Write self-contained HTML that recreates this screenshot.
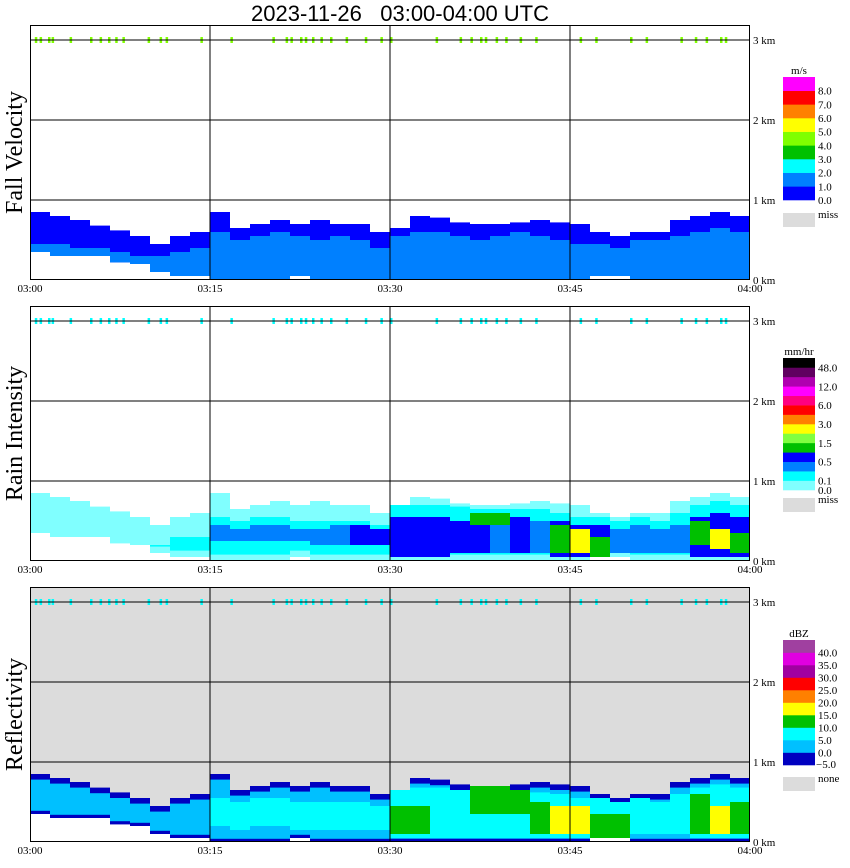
<!DOCTYPE html>
<html><head><meta charset="utf-8"><style>
body{margin:0;background:#fff;width:850px;height:868px;overflow:hidden}
svg{display:block}
</style></head><body>
<svg id="chart" width="850" height="868" xmlns="http://www.w3.org/2000/svg"></svg>
<script>
// ---- data (36 bins of 100 s, 03:00-04:00) ----
const timeTicks = ['03:00','03:15','03:30','03:45','04:00'];
const kmTicks = [0,1,2,3];
const echoTop  = [.85,.8,.75,.68,.62,.55,.45,.55,.6,.85,.65,.7,.75,.7,.75,.7,.7,.6,.65,.8,.78,.72,.7,.7,.72,.75,.72,.7,.6,.55,.6,.6,.75,.8,.85,.8];
const echoBase = [.35,.3,.3,.3,.22,.2,.1,.05,.05,0,0,0,0,.05,0,0,0,0,0,0,0,0,0,0,0,0,0,0,.05,.05,0,0,0,0,0,0];
// fall velocity
const fvMidTop = [.45,.45,.4,.4,.35,.3,.3,.35,.4,.6,.5,.55,.6,.55,.5,.55,.5,.4,.55,.6,.6,.55,.5,.55,.6,.55,.5,.45,.45,.4,.5,.5,.55,.6,.65,.6];
// rain intensity
const rrMidTop = [.25,.2,.2,.2,.25,.25,.2,.3,.3,.55,.5,.55,.55,.5,.5,.5,.5,.45,.7,.7,.7,.68,.65,.65,.65,.65,.6,.55,.55,.5,.55,.5,.6,.7,.75,.7];
const rrInTop  = [0,0,0,0,0,0,0,0,0,.45,.4,.45,.45,.4,.4,.45,.45,.4,.55,.55,.55,.5,.55,.55,.55,.5,.5,.45,.45,.4,.45,.4,.45,.55,.6,.55];
const rrInBase = [0,0,0,0,0,0,0,0,0,.25,.25,.25,.25,.25,.2,.2,.2,.2,.05,.05,.05,.1,.1,.1,.1,.1,.05,.05,.05,.1,.1,.1,.1,.05,.05,.05];
const rrInLvl  = [0,0,0,0,0,0,0,0,0,2,2,2,2,2,2,2,3,3,3,3,3,3,3,2,3,2,3,3,3,2,2,2,2,3,3,3];
const rrHotTop = [0,0,0,0,0,0,0,0,0,0,0,0,0,0,0,0,0,0,0,0,0,0,.6,.6,0,0,.45,.4,.3,0,0,0,0,.5,.4,.35];
const rrHotBase= [0,0,0,0,0,0,0,0,0,0,0,0,0,0,0,0,0,0,0,0,0,0,.45,.45,0,0,.1,.1,.05,0,0,0,0,.2,.15,.1];
const rrHotLvl = [0,0,0,0,0,0,0,0,0,0,0,0,0,0,0,0,0,0,0,0,0,0,4,4,0,0,4,6,4,0,0,0,0,4,6,4];
// reflectivity
const zCyTop   = [0,0,0,0,0,0,0,0,0,.55,.5,.55,.55,.5,.5,.5,.5,.45,.65,.68,.68,.65,.62,.62,.62,.62,.6,.55,.55,.5,.55,.5,.6,.68,.72,.68];
const zCyBase  = [0,0,0,0,0,0,0,0,0,.2,.15,.2,.2,.15,.15,.15,.15,.15,.05,.05,.05,.05,.05,.05,.05,.05,.05,.05,.05,.1,.1,.1,.1,.05,.05,.05];
const zHotTop  = [0,0,0,0,0,0,0,0,0,0,0,0,0,0,0,0,0,0,.45,.45,0,0,.7,.7,.65,.5,.45,.45,.35,.35,0,0,0,.6,.45,.5];
const zHotBase = [0,0,0,0,0,0,0,0,0,0,0,0,0,0,0,0,0,0,.1,.1,0,0,.35,.35,.35,.1,.1,.1,.05,.05,0,0,0,.1,.1,.1];
const zHotLvl  = [0,0,0,0,0,0,0,0,0,0,0,0,0,0,0,0,0,0,3,3,0,0,3,3,3,3,4,4,3,3,0,0,0,3,4,3];
// 3 km clutter (minutes past 03:00)
const clutterMin = [.4,.8,1.5,1.8,3.3,5,5.8,6.5,7.1,7.7,9.8,10.8,11.3,14.2,16.7,20.2,21.3,21.7,22.5,22.9,23.5,24.2,25,26.3,27.9,29.2,30,33.8,35.8,36.7,37.5,37.9,38.8,39.6,40.8,42.1,45.8,47.1,50,51.3,54.2,55.4,56.3,57.5,57.9];

const fvColors=['#0000ff','#0080ff','#00ffff','#00c000','#80ff00','#ffff00','#ff8000','#ff0000','#ff00ff'];
const fvLabels=['0.0','1.0','2.0','3.0','4.0','5.0','6.0','7.0','8.0'];
const rrColors=['#80ffff','#00ffff','#0080ff','#0000ff','#00c000','#80ff40','#ffff00','#ff8000','#ff0000','#ff0080','#ff00ff','#b000b0','#600060','#000000'];
const rrLabels=[[0,'0.1'],[2,'0.5'],[4,'1.5'],[6,'3.0'],[8,'6.0'],[10,'12.0'],[12,'48.0']];
const zColors=['#0000c0','#00c0ff','#00ffff','#00c000','#ffff00','#ff8000','#ff0000','#a000a0','#e000e0','#a040a0'];
const zLabels=['0.0','5.0','10.0','15.0','20.0','25.0','30.0','35.0','40.0'];

const NS='http://www.w3.org/2000/svg';
const svg=document.getElementById('chart');
function mk(tag,attrs,parent){const e=document.createElementNS(NS,tag);for(const k in attrs)e.setAttribute(k,attrs[k]);(parent||svg).appendChild(e);return e;}
const X0=30,X1=750;
function xs(min){return X0+min*(X1-X0)/60;}
function ys(km,bottom){return bottom-km*80;}
const binMin=60/echoTop.length;

function col(g,i,b,t,color,bottom,name){
  if(t<=b)return;
  const r=mk('rect',{x:xs(i*binMin),y:ys(t,bottom),width:xs((i+1)*binMin)-xs(i*binMin),height:(t-b)*80,fill:color},g);
  
  
}

const panels=[
 {top:25,bottom:280,title:'Fall Velocity',bg:'#fff',clutter:'#80ff00'},
 {top:306,bottom:561,title:'Rain Intensity',bg:'#fff',clutter:'#00ffff'},
 {top:587,bottom:842,title:'Reflectivity',bg:'#dcdcdc',clutter:'#00ffff'}
];

const title=mk('text',{x:400,y:21,'text-anchor':'middle','font-family':'Liberation Sans, sans-serif','font-size':22});
title.textContent='2023-11-26\u00a0\u00a0\u00a003:00-04:00\u00a0UTC';



panels.forEach((p,pi)=>{
  const g=mk('g',{});
  
  
  mk('rect',{x:X0,y:p.top,width:X1-X0,height:p.bottom-p.top,fill:p.bg},g);
  for(let i=0;i<echoTop.length;i++){
    const b=echoBase[i],t=echoTop[i],bt=p.bottom;
    if(pi===0){
      col(g,i,b,t,fvColors[0],bt,'fv-echo');
      col(g,i,b,fvMidTop[i],fvColors[1],bt,'fv-echo-mid');
    } else if(pi===1){
      col(g,i,b,t,rrColors[0],bt,'rain-echo');
      col(g,i,b+0.08,rrMidTop[i],rrColors[1],bt,'rain-echo-mid');
      if(rrInTop[i]>0)col(g,i,rrInBase[i],rrInTop[i],rrColors[rrInLvl[i]],bt,'rain-echo-inner');
      if(rrHotTop[i]>0)col(g,i,rrHotBase[i],rrHotTop[i],rrColors[rrHotLvl[i]],bt,'rain-echo-core');
    } else {
      if(b>0)col(g,i,0,b,'#ffffff',bt,'refl-below-echo');
      col(g,i,b,t,zColors[0],bt,'refl-echo');
      col(g,i,b+0.04,t-0.07,zColors[1],bt,'refl-echo-mid');
      if(zCyTop[i]>0)col(g,i,zCyBase[i],zCyTop[i],zColors[2],bt,'refl-echo-inner');
      if(zHotTop[i]>0)col(g,i,zHotBase[i],zHotTop[i],zColors[zHotLvl[i]],bt,'refl-echo-core');
    }
  }
  clutterMin.forEach(m=>{
    const c=mk('rect',{x:xs(m),y:ys(3,p.bottom)-3,width:2.5,height:6,fill:p.clutter},g);
    
    
  });
  [15,30,45].forEach(m=>mk('line',{x1:xs(m),x2:xs(m),y1:p.top,y2:p.bottom,stroke:'#000','stroke-width':1},g));
  kmTicks.slice(1).forEach(k=>mk('line',{x1:X0,x2:X1,y1:ys(k,p.bottom),y2:ys(k,p.bottom),stroke:'#000','stroke-width':1},g));
  mk('rect',{x:X0+0.5,y:p.top+0.5,width:X1-X0-1,height:p.bottom-p.top-1,fill:'none',stroke:'#000','stroke-width':1},g);
  kmTicks.forEach(k=>{
    const t=mk('text',{x:753,y:ys(k,p.bottom)+4,'font-family':'Liberation Serif, serif','font-size':11});
    t.textContent=k+' km';
    
    
  });
  timeTicks.forEach((s,i)=>{
    const t=mk('text',{x:xs(i*15),y:p.bottom+12,'text-anchor':'middle','font-family':'Liberation Serif, serif','font-size':11});
    t.textContent=s;
    
    
  });
  const cy=(p.top+p.bottom)/2;
  const yt=mk('text',{x:22,y:cy,'text-anchor':'middle','font-family':'Liberation Serif, serif','font-size':24,transform:`rotate(-90 22 ${cy})`});
  yt.textContent=p.title;
  
  
});

function legend(colors,top,bottom,unit,labelFn,missY,missText,name){
  const g=mk('g',{});
  
  
  const h=(bottom-top)/colors.length;
  colors.forEach((c,i)=>mk('rect',{x:783,y:bottom-(i+1)*h,width:32,height:h+0.3,fill:c},g));
  const u=mk('text',{x:799,y:top-3,'text-anchor':'middle','font-family':'Liberation Serif, serif','font-size':11},g);
  u.textContent=unit;
  labelFn(g,h);
  mk('rect',{x:783,y:missY,width:32,height:14,fill:'#dcdcdc'},g);
  const m=mk('text',{x:818,y:missY+5,'font-family':'Liberation Serif, serif','font-size':11},g);
  m.textContent=missText;
}
function lab(g,x,y,s){const t=mk('text',{x:x,y:y,'font-family':'Liberation Serif, serif','font-size':11},g);t.textContent=s;}
legend(fvColors,77,200,'m/s',(g,h)=>fvLabels.forEach((s,i)=>lab(g,818,200-i*h+4,s)),213,'miss','legend-fall-velocity');
legend(rrColors,358,490,'mm/hr',(g,h)=>{lab(g,818,494,'0.0');rrLabels.forEach(([i,s])=>lab(g,818,490-(i+1)*h+4,s));},498,'miss','legend-rain-intensity');
legend(zColors,640,765,'dBZ',(g,h)=>{lab(g,816,768,'\u22125.0');zLabels.forEach((s,i)=>lab(g,818,765-(i+1)*h+4,s));},777,'none','legend-reflectivity');
</script>
</body></html>
